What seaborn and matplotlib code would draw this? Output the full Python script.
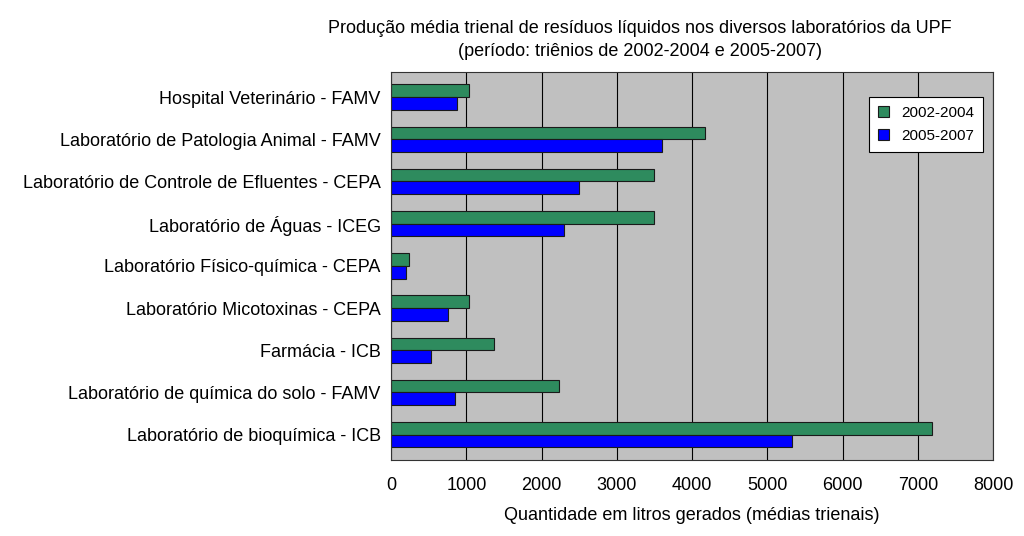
import matplotlib
matplotlib.use("Agg")
import matplotlib.pyplot as plt
import pandas as pd
import seaborn as sns

labs = [
    "Hospital Veterinário - FAMV",
    "Laboratório de Patologia Animal - FAMV",
    "Laboratório de Controle de Efluentes - CEPA",
    "Laboratório de Águas - ICEG",
    "Laboratório Físico-química - CEPA",
    "Laboratório Micotoxinas - CEPA",
    "Farmácia - ICB",
    "Laboratório de química do solo - FAMV",
    "Laboratório de bioquímica - ICB",
]
periods = ["2002-2004", "2005-2007"]
vals_2002 = [1030, 4170, 3490, 3490, 240, 1030, 1370, 2230, 7180]
vals_2005 = [880, 3600, 2500, 2300, 200, 760, 530, 850, 5330]
xticks = [0, 1000, 2000, 3000, 4000, 5000, 6000, 7000, 8000]

df = pd.DataFrame({
    "lab": labs * 2,
    "periodo": [periods[0]] * len(labs) + [periods[1]] * len(labs),
    "litros": vals_2002 + vals_2005,
})

sns.set_style("white")
plt.rcParams["font.family"] = ["Liberation Sans", "DejaVu Sans"]
plt.rcParams["text.color"] = "black"
plt.rcParams["axes.labelcolor"] = "black"
plt.rcParams["xtick.color"] = "black"
plt.rcParams["ytick.color"] = "black"

fig = plt.figure(figsize=(10.24, 5.36), dpi=100)
ax = fig.add_axes([0.382, 0.142, 0.588, 0.724])
ax.set_facecolor("#C0C0C0")

sns.barplot(
    data=df, y="lab", x="litros", hue="periodo", order=labs,
    hue_order=periods, palette=["#2E8B5E", "#0000FF"], saturation=1,
    width=0.6, edgecolor="#1a1a1a", linewidth=0.8, ax=ax, orient="h",
    legend=True,
)

ax.set_xlim(0, 8000)
ax.set_ylim(8.6, -0.6)
ax.set_xticks(xticks)
ax.set_xticklabels([str(t) for t in xticks], fontsize=13)
ax.tick_params(axis="y", labelsize=13, length=4, direction="out")
ax.tick_params(axis="x", length=6, direction="out", pad=6)
ax.xaxis.grid(True, color="black", linewidth=0.8)
ax.set_axisbelow(True)
for s in ax.spines.values():
    s.set_color("#333333")
    s.set_linewidth(0.8)
ax.set_ylabel("")
ax.set_xlabel("Quantidade em litros gerados (médias trienais)", fontsize=13, labelpad=10)

leg = ax.legend(loc="upper right", bbox_to_anchor=(0.983, 0.936), borderaxespad=0,
                fontsize=11, frameon=True, fancybox=False, edgecolor="black",
                framealpha=1, handlelength=0.7, handleheight=0.7, borderpad=0.6,
                labelspacing=0.6)
leg.get_frame().set_linewidth(0.8)

fig.text(0.625, 0.962, "Produção média trienal de resíduos líquidos nos diversos laboratórios da UPF\n"
         "(período: triênios de 2002-2004 e 2005-2007)", ha="center", va="top",
         fontsize=13, linespacing=1.4)

fig.savefig("out.png", dpi=100, facecolor="white")
plt.close(fig)
